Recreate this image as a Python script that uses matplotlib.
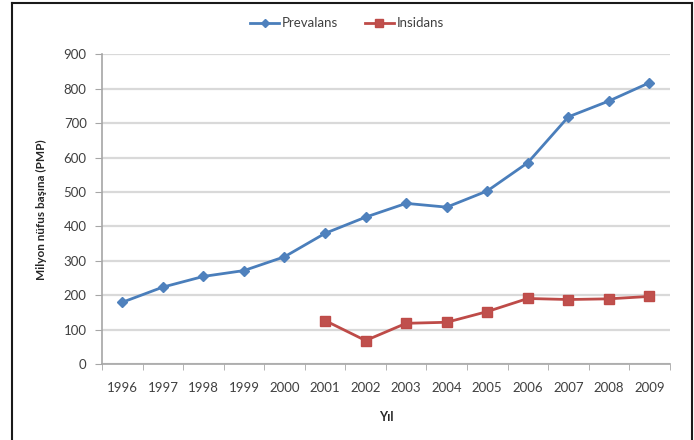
# Prevalans ve insidans eğilimi (milyon nüfus başına), 1996-2009
import matplotlib.pyplot as plt
import numpy as np
from matplotlib.lines import Line2D
from matplotlib.ticker import FixedLocator

plt.rcParams["font.family"] = ["Lato", "DejaVu Sans"]

years = ["1996", "1997", "1998", "1999", "2000", "2001", "2002",
         "2003", "2004", "2005", "2006", "2007", "2008", "2009"]
prevalans = [180, 224, 255, 272, 312, 380, 427, 467, 456, 503, 585, 718, 764, 817]
insidans = [np.nan, np.nan, np.nan, np.nan, np.nan, 127, 69, 119, 122, 153, 191, 188, 190, 197]

blue_line = "#4a7ebb"
blue_mark = "#4f81bd"
red_line = "#be4b48"
red_mark = "#c0504d"
axis_grey = "#a6a6a6"
grid_grey = "#d9d9d9"
text_col = "#404040"

fig = plt.figure(figsize=(6.94, 4.40), dpi=100)
ax = fig.add_axes([0.147, 0.172, 0.818, 0.705])

x = np.arange(len(years))
ax.plot(x, prevalans, color=blue_line, linewidth=2.0, marker="D", markersize=5,
        markerfacecolor=blue_mark, markeredgecolor=blue_mark, label="Prevalans", zorder=3)
ax.plot(x, insidans, color=red_line, linewidth=2.0, marker="s", markersize=6.5,
        markerfacecolor=red_mark, markeredgecolor=red_line, label="Insidans", zorder=3)

ax.set_xlim(-0.5, len(years) - 0.5)
ax.set_ylim(0, 900)
ax.set_yticks(np.arange(0, 901, 100))
ax.set_xticks(x)
ax.set_xticklabels(years)
ax.xaxis.set_minor_locator(FixedLocator(np.arange(-0.5, len(years), 1.0)))

ax.yaxis.grid(True, color=grid_grey, linewidth=1.6)
ax.set_axisbelow(True)

for side in ("top", "right"):
    ax.spines[side].set_visible(False)
for side in ("left", "bottom"):
    ax.spines[side].set_color(axis_grey)
    ax.spines[side].set_linewidth(1.2)

ax.tick_params(axis="y", which="major", length=5, color=axis_grey, labelsize=9.5,
               labelcolor=text_col, pad=6)
ax.tick_params(axis="x", which="major", length=0, labelsize=9.5, labelcolor=text_col, pad=13)
ax.tick_params(axis="x", which="minor", length=4, color=axis_grey)

ax.set_xlabel("Yıl", fontsize=9, fontweight="bold", color="#262626", labelpad=12)
ax.set_ylabel("Milyon nüfus başına (PMP)", fontsize=8.5, fontweight="bold",
              color="#262626", labelpad=12)

fig.legend(loc="center", bbox_to_anchor=(0.5, 0.947), ncol=2, frameon=False,
           fontsize=9.5, handlelength=2.2, handletextpad=0.2, columnspacing=2.0,
           labelcolor=text_col, markerscale=0.85)

# çerçeve
frame_kw = dict(transform=fig.transFigure, color="#1a1a1a", linewidth=1.5)
fig.add_artist(Line2D([0.018, 0.018], [0.0, 0.993], **frame_kw))
fig.add_artist(Line2D([0.018, 0.997], [0.993, 0.993], **frame_kw))
fig.add_artist(Line2D([0.997, 0.997], [0.0, 0.993], **frame_kw))

fig.savefig("out.png", dpi=100, facecolor="white")
